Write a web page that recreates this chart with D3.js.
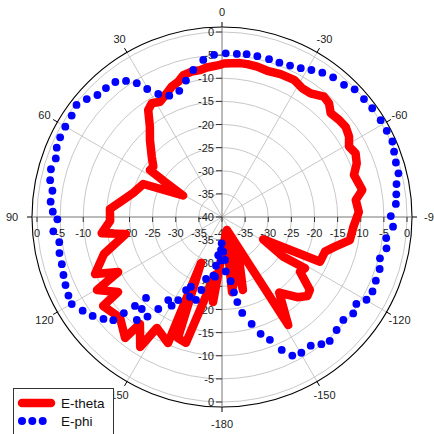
<!DOCTYPE html>
<html><head><meta charset="utf-8">
<script src="https://cdn.jsdelivr.net/npm/d3@7"></script>
<style>html,body{margin:0;padding:0;background:#fff;}svg{display:block;}</style>
</head><body>
<svg id="chart" width="434" height="434"></svg>
<script>
// ---- data (angle in degrees, counter-clockwise from top; level in dB) ----
const thetaAngles = [0.75,5.8,8.5,11.8,15.2,17.9,21.1,24.1,28.3,31.7,34.6,38.6,43.1,49.4,53.8,56.9,58.45,61.1,67.25,74.9,80.3,85.9,92,97.7,100,107.4,114.2,117.9,120.3,125.8,126.8,134.7,141.3,142.5,147.8,149.6,156.8,155.5,160,164,173.1,174,
  -165,-172.4,-154.1,-164,-159,-148.5,-142.9,-136.8,-132.8,-129.7,-125,-121.7,-122.9,-118.4,-114.5,-108.6,-104.7,-100.2,-94.2,-87.9,-82.75,-79.1,-72.3,-68.3,-64.5,-61,-57.7,-53.9,-50.3,-46.3,-43.3,-40.3,-35.6,-32,-27.7,-22.3,-17.2,-13.2,-9.4,-6.7,-0.75];
const thetaValues = [-7.1,-7.5,-7.9,-7.9,-8.2,-9.25,-9.8,-10.7,-11.7,-11.1,-11.9,-15.0,-17.2,-20.0,-21.6,-21.4,-25.5,-30.4,-21.55,-20.1,-18.3,-15.7,-15.8,-13.75,-18.9,-13.25,-9.9,-14.6,-8.7,-12.3,-7.9,-9.0,-6.5,-10.85,-6.8,-12.2,-10.35,-29.1,-12.15,-11.7,-27.4,-21.5,
  -36.6,-23.6,-32.1,-23.6,-37,-12.6,-19.5,-16.2,-14.85,-15.3,-19.4,-18.9,-24.2,-29.9,-16.7,-16.5,-14.75,-11.9,-11.5,-10.4,-10.85,-9.1,-10.05,-8.65,-8.0,-8.6,-7.5,-6.9,-7.1,-7.5,-6.25,-5.9,-7.1,-7.2,-6.5,-6.6,-6.9,-6.6,-6.5,-6.5,-6.8];

const phiAngles = [-1.3,-5.2,-8.6,-12.4,-16.6,-20.4,-24.2,-27.9,-31.3,-34.8,-38.5,-42.7,-46.1,-50.3,-54.1,-58.6,-62.4,-66.1,-69.2,-72.6,-76.1,-79.3,-82.6,-85.7,-89.7,
  -93.25,-97.3,-100.8,-104.65,-108.25,-112.5,-116.3,-119.8,-122.9,-126.3,-130.3,-134.6,-139,-142,-145.4,-149.7,-153.1,-155.8,-158.7,-161.7,-164.5,-168.1,-169.8,-171,-172.3,-176.1,-176,-177.9,
  179.3,178.3,178.7,174.4,173,173.3,171.6,165.5,164.2,162.6,158.1,156,153.8,152.2,150.4,147.1,145.3,136.8,143.2,140.4,138.9,135.6,134.4,133.5,130.7,127.4,123.9,120.1,117.1,113.5,110.1,106.4,102.5,98.8,94.85,90.8,
  88.2,84.9,81.2,77.9,74.4,70.6,67.25,63.8,60.05,56.0,52.4,48.9,45.6,42.0,38.3,35.2,32.5,30.3,27.4,23.5,18.7,14.8,11.05,6.8,2.8];
const phiValues = [-4.6,-4.6,-4.4,-4.4,-4.4,-4.4,-4.1,-3.6,-2.8,-2.0,-1.4,-1.1,-0.2,-0.1,0.1,0.2,0.2,0.3,-0.2,-0.6,-0.7,-1.6,-2.0,-2.3,-3.5,
  -2.96,-4.2,-3.8,-4.7,-4.1,-4.0,-3.7,-4.0,-5.4,-4.8,-5.6,-5.2,-4.5,-5.1,-6.2,-6.0,-6.4,-8.5,-11.5,-13.4,-16.0,-18.8,-21.3,-23.5,-26.0,-28.2,-30.7,-32.5,
  -34.3,-32.9,-30.6,-31.7,-29.4,-27.0,-27.2,-26.2,-23.6,-21.2,-21.4,-23.5,-22.4,-19.7,-17.95,-18.6,-15.8,-16.0,-13.1,-11.1,-13.6,-13.1,-10.3,-7.6,-6.2,-4.8,-3.7,-2.45,-2.7,-3.1,-3.5,-3.9,-4.0,-4.4,-3.4,-4.4,
  -3.4,-2.8,-2.9,-2.0,-1.6,-1.9,-1.25,-1.0,-0.9,-0.8,-0.3,-1.2,-2.3,-2.5,-2.8,-4.0,-5.7,-7.95,-10.05,-11.4,-11.2,-9.5,-7.6,-5.8,-4.9];

const radialTicks = [0,-5,-10,-15,-20,-25,-30,-35,-40];
const angleTickPos = [0,30,60,90,120,150,180,210,240,270,300,330];
const angleTickLabels = ["0","30","60","90","120","150","-180","-150","-120","-90","-60","-30"];
const seriesNames = ["E-theta","E-phi"];

// ---- layout ----
const cx = 222, cy = 217, R0 = 185, Rout = 190;
const svg = d3.select("#chart");
const r = d3.scaleLinear().domain([-40, 0]).range([0, R0]);
const rad = d => d * Math.PI / 180;
const px = (deg, rr) => cx - rr * Math.sin(rad(deg));
const py = (deg, rr) => cy - rr * Math.cos(rad(deg));
const font = "'Liberation Sans', Arial, sans-serif";

const g = svg.append("g");

// grid circles
g.selectAll("circle.grid").data(radialTicks.filter(v => v > -40)).enter().append("circle")
  .attr("cx", cx).attr("cy", cy).attr("r", d => r(d))
  .attr("fill", "none").attr("stroke", "#c8c8c8").attr("stroke-width", 1);

// spokes
g.selectAll("line.spoke").data(angleTickPos.filter(a => a % 90 !== 0)).enter().append("line")
  .attr("x1", cx).attr("y1", cy)
  .attr("x2", d => px(d, Rout)).attr("y2", d => py(d, Rout))
  .attr("stroke", "#c8c8c8").attr("stroke-width", 1);

// outer circle
g.append("circle").attr("cx", cx).attr("cy", cy).attr("r", Rout)
  .attr("fill", "none").attr("stroke", "#000").attr("stroke-width", 1.1);

// axes lines
g.append("line").attr("x1", cx - Rout).attr("x2", cx + Rout).attr("y1", cy).attr("y2", cy)
  .attr("stroke", "#777").attr("stroke-width", 1);
g.append("line").attr("x1", cx).attr("x2", cx).attr("y1", cy - Rout).attr("y2", cy + Rout)
  .attr("stroke", "#777").attr("stroke-width", 1);

// outer angle ticks
g.selectAll("line.atick").data(angleTickPos).enter().append("line")
  .attr("x1", d => px(d, Rout)).attr("y1", d => py(d, Rout))
  .attr("x2", d => px(d, Rout + 5)).attr("y2", d => py(d, Rout + 5))
  .attr("stroke", "#000").attr("stroke-width", 1);

// angle labels
g.selectAll("text.alab").data(angleTickPos).enter().append("text")
  .attr("x", d => px(d, (d === 90 || d === 270) ? 210 : 205))
  .attr("y", d => py(d, d === 180 ? 207 : 205))
  .attr("text-anchor", "middle").attr("dominant-baseline", "central")
  .attr("font-family", font).attr("font-size", 11).attr("fill", "#222")
  .text((d, i) => angleTickLabels[i]);

// radial axis ticks + labels
const tickCol = "#333";
// vertical (top & bottom)
radialTicks.forEach(v => {
  [-1, 1].forEach(s => {
    if (s === 1 && v === -40) return;
    const y = cy + s * r(v);
    g.append("line").attr("x1", cx - 6).attr("x2", cx).attr("y1", y).attr("y2", y)
      .attr("stroke", tickCol).attr("stroke-width", 1);
    g.append("text").attr("x", cx - 8).attr("y", y).attr("text-anchor", "end")
      .attr("dominant-baseline", "central").attr("font-family", font).attr("font-size", 11)
      .attr("fill", "#222").text(v);
  });
});
// horizontal (left & right)
radialTicks.forEach(v => {
  [-1, 1].forEach(s => {
    if (s === 1 && v === -40) return;
    const x = cx + s * r(v);
    g.append("line").attr("x1", x).attr("x2", x).attr("y1", cy).attr("y2", cy + 5)
      .attr("stroke", tickCol).attr("stroke-width", 1);
    g.append("text").attr("x", x).attr("y", cy + 16).attr("text-anchor", "middle")
      .attr("dominant-baseline", "central").attr("font-family", font).attr("font-size", 11)
      .attr("fill", "#222").text(v);
  });
});

// ---- series ----
const thetaData = thetaAngles.map((a, i) => [a, thetaValues[i]]);
const phiData = phiAngles.map((a, i) => [a, phiValues[i]]);

const radial = d3.lineRadial()
  .angle(d => -rad(d[0]))
  .radius(d => r(d[1]))
  .curve(d3.curveLinearClosed);

svg.append("path").datum(thetaData)
  .attr("transform", `translate(${cx},${cy})`)
  .attr("d", radial)
  .attr("fill", "none").attr("stroke", "#ff0000").attr("stroke-width", 8.5)
  .attr("stroke-linejoin", "round").attr("stroke-linecap", "round");

svg.append("g").selectAll("circle").data(phiData).enter().append("circle")
  .attr("cx", d => px(d[0], r(d[1]))).attr("cy", d => py(d[0], r(d[1])))
  .attr("r", 3.9).attr("fill", "#0000ff");

// ---- legend ----
const lg = svg.append("g");
lg.append("rect").attr("x", 13.5).attr("y", 388.5).attr("width", 100).attr("height", 60)
  .attr("fill", "#fff").attr("stroke", "#333").attr("stroke-width", 1);
lg.append("line").attr("x1", 22).attr("x2", 51).attr("y1", 403).attr("y2", 403)
  .attr("stroke", "#ff0000").attr("stroke-width", 8.5).attr("stroke-linecap", "round");
[22, 32.3, 42.7].forEach(x => lg.append("circle").attr("cx", x).attr("cy", 421).attr("r", 4).attr("fill", "#0000ff"));
lg.selectAll("text").data(seriesNames).enter().append("text")
  .attr("x", 61).attr("y", (d, i) => 403 + i * 18)
  .attr("dominant-baseline", "central").attr("font-family", font).attr("font-size", 13.5)
  .attr("fill", "#111").text(d => d);
</script>
</body></html>
